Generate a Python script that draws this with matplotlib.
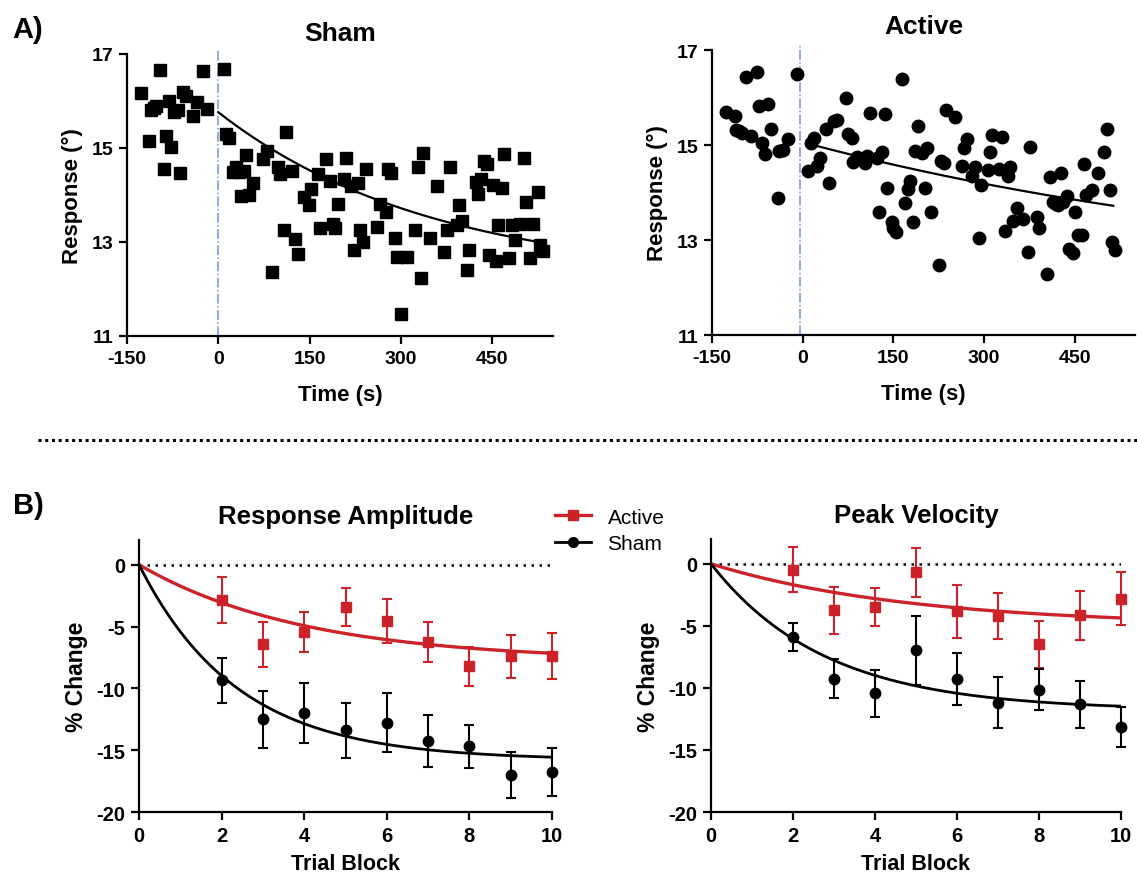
import numpy as np
import matplotlib
matplotlib.use("Agg")
import matplotlib.pyplot as plt
from matplotlib.lines import Line2D

plt.rcParams['font.family'] = ['Liberation Sans', 'DejaVu Sans']
plt.rcParams['font.weight'] = 'bold'
plt.rcParams['axes.labelweight'] = 'bold'
plt.rcParams['axes.unicode_minus'] = False

RED = '#cc2229'

# ---- A) single-trial responses (time in s, response in deg)
sham_t = [-127.5, -113.7, -109.9, -106.1, -101.7, -96.2, -89.0, -85.2, -81.3, -78.0,
          -73.1, -67.0, -63.2, -58.8, -53.3, -41.2, -35.7, -25.8, -19.2,
          9.3, 12.6, 18.1, 23.6, 29.1, 34.6, 37.9, 42.3, 45.6, 51.1,
          56.6, 74.2, 79.7, 89.0, 97.3, 101.7, 107.2, 111.5, 121.4, 125.8,
          130.2, 140.1, 148.9, 152.2, 163.2, 167.6, 176.4, 183.0, 188.5, 191.8,
          196.2, 206.1, 210.5, 218.2, 223.6, 229.1, 233.5, 237.9, 242.3, 261.0,
          266.5, 275.3, 278.6, 284.1, 289.6, 294.0, 299.5, 309.4, 322.6, 328.1,
          333.5, 336.8, 347.8, 358.8, 370.9, 376.4, 380.8, 392.9, 395.6, 400.0,
          408.3, 412.7, 423.1, 427.0, 431.3, 436.9, 441.2, 445.1, 450.6, 456.1,
          458.8, 465.4, 469.8, 478.1, 483.0, 487.4, 496.2, 501.7, 506.1, 511.6,
          517.1, 524.8, 529.2, 533.0]
sham_resp = [16.17, 15.15, 15.81, 15.85, 15.90, 16.66, 14.55, 15.26, 15.99, 15.03,
             15.77, 15.81, 14.46, 16.20, 16.11, 15.69, 15.98, 16.64, 15.83,
             16.69, 15.30, 15.22, 14.48, 14.59, 14.48, 13.97, 14.51, 14.85, 14.00,
             14.25, 14.76, 14.94, 12.37, 14.59, 14.44, 13.25, 15.35, 14.51, 13.06,
             12.74, 13.95, 13.79, 14.12, 14.44, 13.29, 14.76, 14.30, 13.38, 13.29,
             13.80, 14.34, 14.78, 14.19, 12.82, 14.25, 13.26, 13.00, 14.56, 13.31,
             13.80, 13.64, 14.55, 14.46, 13.09, 12.67, 11.46, 12.69, 13.26, 14.60,
             12.23, 14.90, 13.08, 14.19, 12.79, 13.26, 14.60, 13.36, 13.79, 13.45,
             12.40, 12.82, 14.27, 14.02, 14.35, 14.73, 14.66, 12.72, 14.22, 12.60,
             13.36, 14.15, 14.87, 12.65, 13.36, 13.04, 13.39, 14.78, 13.84, 12.65,
             13.39, 14.07, 12.94, 12.80]

active_t = [-127.5, -112.6, -109.9, -105.5, -100.0, -93.4, -85.7, -75.8, -72.5, -67.0,
            -61.5, -57.1, -52.2, -40.7, -38.5, -33.0, -23.6, -9.9,
            8.2, 13.7, 19.2, 23.6, 28.6, 38.5, 43.4, 51.1, 57.7, 71.4,
            75.8, 81.3, 83.5, 90.7, 98.9, 103.3, 107.2, 111.0, 123.6, 126.4,
            131.9, 136.3, 140.1, 148.4, 150.0, 155.0, 164.9, 169.2, 174.7, 176.9,
            183.0, 186.8, 191.2, 197.8, 202.2, 206.1, 212.1, 225.3, 229.7, 234.6,
            237.9, 252.8, 263.8, 266.5, 271.5, 280.2, 285.7, 291.2, 295.6, 306.6,
            310.5, 313.2, 324.2, 329.7, 335.2, 339.6, 342.9, 348.9, 354.9, 364.9,
            372.6, 376.4, 387.4, 391.8, 404.4, 409.9, 413.8, 419.3, 423.1, 427.5,
            431.4, 437.4, 440.7, 446.7, 450.6, 455.0, 462.7, 466.0, 469.8, 479.7,
            489.1, 498.9, 503.9, 508.3, 512.7, 516.5]
active_resp = [15.69, 15.62, 15.32, 15.30, 15.25, 16.44, 15.19, 16.53, 15.83, 15.04,
               14.81, 15.86, 15.33, 13.89, 14.88, 14.90, 15.12, 16.49,
               14.46, 15.05, 15.14, 14.55, 14.72, 15.33, 14.21, 15.51, 15.52, 16.00,
               15.23, 15.14, 14.65, 14.74, 14.70, 14.63, 14.77, 15.67, 14.72, 13.58,
               14.86, 15.65, 14.10, 13.37, 13.26, 13.17, 16.39, 13.77, 14.08, 14.25,
               13.37, 14.88, 15.40, 14.83, 14.10, 14.93, 13.58, 12.47, 14.67, 14.62,
               15.74, 15.58, 14.56, 14.93, 15.12, 14.35, 14.53, 13.05, 14.16, 14.48,
               14.86, 15.21, 14.49, 15.16, 13.18, 14.34, 14.53, 13.40, 13.68, 13.45,
               12.75, 14.96, 13.49, 13.25, 12.29, 14.32, 13.81, 13.75, 13.73, 14.42,
               13.79, 13.93, 12.82, 12.73, 13.58, 13.10, 13.10, 14.61, 13.94, 14.06,
               14.41, 14.86, 15.33, 14.06, 12.96, 12.79]

# one-phase decay fits: y = plateau + (y0 - plateau) * exp(-k t)
sham_fit = dict(y0=15.76, plateau=12.2, k=0.00284, t0=0, t1=536)
active_fit = dict(y0=15.06, plateau=12.0, k=0.00112, t0=8, t1=514)

# ---- B) % change per trial block (mean +/- sem)
blocks = [2, 3, 4, 5, 6, 7, 8, 9, 10]
amp_active = [-2.83, -6.44, -5.44, -3.42, -4.56, -6.25, -8.22, -7.41, -7.41]
amp_active_err = [1.85, 1.8, 1.6, 1.57, 1.75, 1.6, 1.6, 1.75, 1.85]
amp_sham = [-9.35, -12.51, -11.99, -13.40, -12.78, -14.26, -14.69, -16.98, -16.77]
amp_sham_err = [1.82, 2.29, 2.42, 2.25, 2.38, 2.1, 1.74, 1.85, 1.95]
vel_active = [-0.46, -3.76, -3.49, -0.67, -3.84, -4.21, -6.50, -4.16, -2.82]
vel_active_err = [1.84, 1.88, 1.55, 1.97, 2.15, 1.88, 1.88, 1.95, 2.15]
vel_sham = [-5.91, -9.26, -10.42, -6.98, -9.26, -11.19, -10.15, -11.33, -13.15]
vel_sham_err = [1.13, 1.57, 1.9, 2.8, 2.08, 2.08, 1.65, 1.9, 1.6]

# fits: y = plateau * (1 - exp(-k x))
amp_fits = {'active': (-7.8, 0.25), 'sham': (-15.8, 0.42)}
vel_fits = {'active': (-5.0, 0.206), 'sham': (-11.8, 0.359)}

fig = plt.figure(figsize=(11.37, 8.78), dpi=100)


def style(ax):
    for s in ['top', 'right']:
        ax.spines[s].set_visible(False)
    for s in ['left', 'bottom']:
        ax.spines[s].set_linewidth(1.6)
    ax.tick_params(direction='out', length=6, width=1.6, labelsize=14, pad=4)
    for lab in ax.get_xticklabels() + ax.get_yticklabels():
        lab.set_fontweight('bold')


def scatter_panel(rect, t, resp, fit, marker, title, vline_x, title_pad):
    ax = fig.add_axes(rect)
    ax.plot(t, resp, ls='none', marker=marker, ms=8.6 if marker == 's' else 9,
            color='black', zorder=3)
    tt = np.linspace(fit['t0'], fit['t1'], 200)
    ax.plot(tt, fit['plateau'] + (fit['y0'] - fit['plateau']) * np.exp(-fit['k'] * tt),
            color='black', lw=1.6, zorder=4)
    ax.plot([vline_x, vline_x], [11, 17.1], color='#6d94db', lw=1.1, ls='-.',
            zorder=2, clip_on=False)
    ax.set_xlim(-150, 550)
    ax.set_ylim(11, 17)
    ax.set_xticks([-150, 0, 150, 300, 450])
    ax.set_yticks([11, 13, 15, 17])
    ax.set_xlabel('Time (s)', fontsize=16, labelpad=12)
    ax.set_ylabel('Response (°)', fontsize=16, labelpad=6)
    ax.set_title(title, fontsize=19, fontweight='bold', pad=title_pad)
    style(ax)
    return ax


scatter_panel([0.1117, 0.6162, 0.3747, 0.3212], sham_t, sham_resp, sham_fit, 's',
              'Sham', 0, 10)
scatter_panel([0.6262, 0.6173, 0.372, 0.3246], active_t, active_resp, active_fit, 'o',
              'Active', -4, 12)


def change_panel(rect, act, act_err, sham, sham_err, fits, title):
    ax = fig.add_axes(rect)
    ax.plot([0, 10], [0, 0], ls=(0, (1, 2.2)), color='black', lw=1.8, zorder=1)
    xx = np.linspace(0, 10, 200)
    pa, ka = fits['active']
    ps, ks = fits['sham']
    ax.plot(xx, pa * (1 - np.exp(-ka * xx)), color=RED, lw=2.4, zorder=3)
    ax.plot(xx, ps * (1 - np.exp(-ks * xx)), color='black', lw=2.0, zorder=3)
    ax.errorbar(blocks, act, yerr=act_err, fmt='s', color=RED, ms=7.5, capsize=3.5,
                elinewidth=1.5, capthick=1.5, zorder=4, clip_on=False)
    ax.errorbar(blocks, sham, yerr=sham_err, fmt='o', color='black', ms=7.5, capsize=3.5,
                elinewidth=1.5, capthick=1.5, zorder=4, clip_on=False)
    ax.set_xlim(0, 10)
    ax.set_ylim(-20, 2)
    ax.set_xticks([0, 2, 4, 6, 8, 10])
    ax.set_yticks([0, -5, -10, -15, -20])
    ax.set_xlabel('Trial Block', fontsize=15.5, labelpad=6)
    ax.set_ylabel('% Change', fontsize=16.5, labelpad=6)
    ax.set_title(title, fontsize=18.5, fontweight='bold', pad=12)
    style(ax)
    ax.tick_params(labelsize=14.5)
    return ax


change_panel([0.1223, 0.074, 0.3632, 0.3098], amp_active, amp_active_err,
             amp_sham, amp_sham_err, amp_fits, 'Response Amplitude')
change_panel([0.6253, 0.074, 0.3606, 0.311], vel_active, vel_active_err,
             vel_sham, vel_sham_err, vel_fits, 'Peak Velocity')

# legend between the bottom panels
handles = [Line2D([], [], color=RED, marker='s', ms=7, lw=2.4),
           Line2D([], [], color='black', marker='o', ms=7, lw=2.0)]
fig.legend(handles, ['Active', 'Sham'], loc='upper left', bbox_to_anchor=(0.472, 0.442),
           frameon=False, prop={'size': 15, 'weight': 'normal'}, handlelength=1.7,
           handletextpad=0.8, labelspacing=0.35)

# panel letters and separator
fig.text(0.011, 0.966, 'A)', fontsize=21, fontweight='bold', va='center')
fig.text(0.011, 0.424, 'B)', fontsize=21, fontweight='bold', va='center')
fig.add_artist(Line2D([0.033, 1.0], [0.4977, 0.4977], transform=fig.transFigure,
                      color='black', ls=(0, (1, 1.2)), lw=2.2))

fig.savefig('out.png', dpi=100)
